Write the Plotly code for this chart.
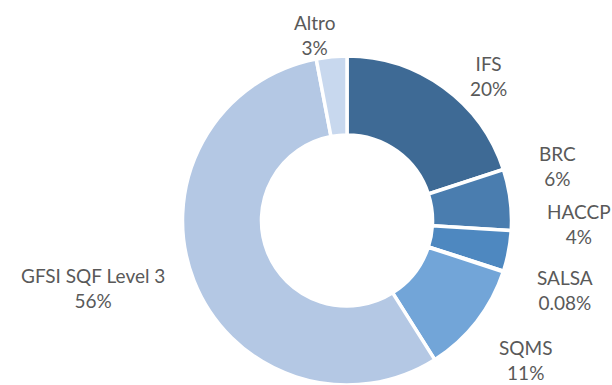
import plotly.graph_objects as go

# Data
labels = ["IFS", "BRC", "HACCP", "SALSA", "SQMS", "GFSI SQF Level 3", "Altro"]
values = [20, 6, 4, 0.08, 11, 56, 3]
colors = ["#3E6A95", "#4A7DAF", "#4E88C0", "#5A93CC", "#72A5D8", "#B4C8E4", "#C8D8EE"]

# Label placement (pixel centers in the 612x385 canvas), kept separate from data
W, H = 612, 385
label_pos = [(488, 75.5), (557, 166), (579, 224), (565, 289.5),
             (525, 360), (93, 287.5), (314, 35)]

fig = go.Figure()
fig.add_trace(go.Pie(
    labels=labels,
    values=values,
    sort=False,
    direction="clockwise",
    rotation=0,
    hole=0.52,
    textinfo="none",
    marker=dict(colors=colors, line=dict(color="white", width=3.5)),
    domain=dict(x=[0.25, 0.884], y=[0, 1 - 56 / H]),
    showlegend=False,
))

annotations = []
for lab, v, (px, py) in zip(labels, values, label_pos):
    annotations.append(dict(
        x=px / W, y=1 - py / H, xref="paper", yref="paper",
        text=f"{lab}<br>{v:g}%", showarrow=False,
        xanchor="center", yanchor="middle", align="center",
        font=dict(family="Lato", size=19, color="#595959"),
    ))

fig.update_layout(
    width=W, height=H,
    margin=dict(l=0, r=0, t=0, b=0),
    paper_bgcolor="white", plot_bgcolor="white",
    annotations=annotations,
)

fig.write_html("out.html")
